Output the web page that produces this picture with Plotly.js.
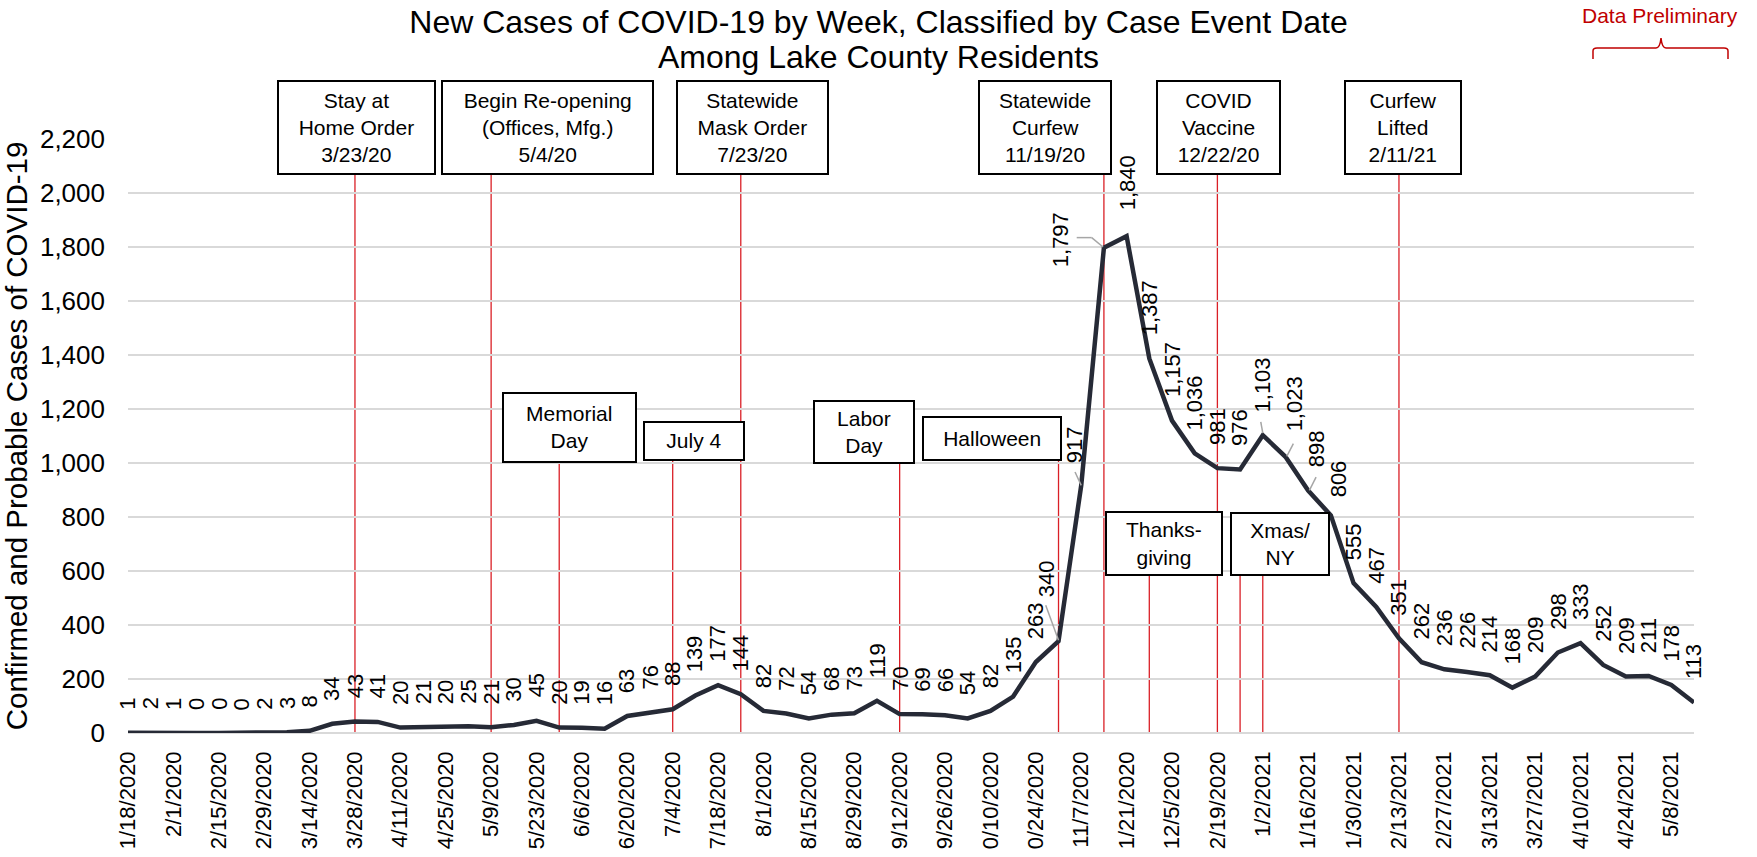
<!DOCTYPE html>
<html><head><meta charset="utf-8">
<script src="https://cdn.plot.ly/plotly-3.0.1.min.js"></script>
<style>html,body{margin:0;padding:0;background:#fff}</style>
</head><body><div id="chart" style="width:1757px;height:857px"></div>
<script>
const weeks = ['1/18/2020','1/25/2020','2/1/2020','2/8/2020','2/15/2020','2/22/2020','2/29/2020','3/7/2020','3/14/2020','3/21/2020',
'3/28/2020','4/4/2020','4/11/2020','4/18/2020','4/25/2020','5/2/2020','5/9/2020','5/16/2020','5/23/2020','5/30/2020',
'6/6/2020','6/13/2020','6/20/2020','6/27/2020','7/4/2020','7/11/2020','7/18/2020','7/25/2020','8/1/2020','8/8/2020',
'8/15/2020','8/22/2020','8/29/2020','9/5/2020','9/12/2020','9/19/2020','9/26/2020','10/3/2020','10/10/2020','10/17/2020',
'10/24/2020','10/31/2020','11/7/2020','11/14/2020','11/21/2020','11/28/2020','12/5/2020','12/12/2020','12/19/2020','12/26/2020',
'1/2/2021','1/9/2021','1/16/2021','1/23/2021','1/30/2021','2/6/2021','2/13/2021','2/20/2021','2/27/2021','3/6/2021',
'3/13/2021','3/20/2021','3/27/2021','4/3/2021','4/10/2021','4/17/2021','4/24/2021','5/1/2021','5/8/2021','5/15/2021'];
const cases = [1,2,1,0,0,0,2,3,8,34,
43,41,20,21,20,25,21,30,45,20,
19,16,63,76,88,139,177,144,82,72,
54,68,73,119,70,69,66,54,82,135,
263,340,917,1797,1840,1387,1157,1036,981,976,
1103,1023,898,806,555,467,351,262,236,226,
214,168,209,298,333,252,209,211,178,113];
const tickWeeks = ['1/18/2020','2/1/2020','2/15/2020','2/29/2020','3/14/2020','3/28/2020','4/11/2020','4/25/2020','5/9/2020','5/23/2020',
'6/6/2020','6/20/2020','7/4/2020','7/18/2020','8/1/2020','8/15/2020','8/29/2020','9/12/2020','9/26/2020','10/10/2020',
'10/24/2020','11/7/2020','11/21/2020','12/5/2020','12/19/2020','1/2/2021','1/16/2021','1/30/2021','2/13/2021','2/27/2021',
'3/13/2021','3/27/2021','4/10/2021','4/24/2021','5/8/2021'];
const tickLabels = ['1/18/2020','2/1/2020','2/15/2020','2/29/2020','3/14/2020','3/28/2020','4/11/2020','4/25/2020','5/9/2020','5/23/2020',
'6/6/2020','6/20/2020','7/4/2020','7/18/2020','8/1/2020','8/15/2020','8/29/2020','9/12/2020','9/26/2020','0/10/2020',
'0/24/2020','11/7/2020','1/21/2020','12/5/2020','2/19/2020','1/2/2021','1/16/2021','1/30/2021','2/13/2021','2/27/2021',
'3/13/2021','3/27/2021','4/10/2021','4/24/2021','5/8/2021'];
const eventLabels = ['Stay at<br>Home Order<br>3/23/20','Begin Re-opening<br>(Offices, Mfg.)<br>5/4/20','Statewide<br>Mask Order<br>7/23/20',
'Statewide<br>Curfew<br>11/19/20','COVID<br>Vaccine<br>12/22/20','Curfew<br>Lifted<br>2/11/21',
'Memorial<br>Day','July 4','Labor<br>Day','Halloween','Thanks-<br>giving','Xmas/<br>NY'];
const eventWeeks = [['3/28/2020'],['5/9/2020'],['7/25/2020'],['11/14/2020'],['12/19/2020'],['2/13/2021'],
['5/30/2020'],['7/4/2020'],['9/12/2020'],['10/31/2020'],['11/28/2020'],['12/26/2020','1/2/2021']];

// ---- layout geometry (pixels) ----
const W = 1757, H = 857;
const L = 128, R = 1694, T = 139, B = 733;
const YMAX = 2200;
const FONT = 'Liberation Sans, Arial, Helvetica, sans-serif';
const px2paperX = px => (px - L) / (R - L);
const px2paperY = py => (B - py) / (B - T);

// event box rectangles [x0, x1, y0, y1] in page pixels
const boxRects = [
  [277.5, 436.3, 80, 175], [440.9, 654.3, 80, 175], [675.8, 828.5, 80, 175],
  [977.7, 1112, 80, 175], [1156, 1281, 80, 175], [1343.9, 1461.4, 80, 175],
  [502.5, 637, 391.7, 462.3], [642.9, 744.7, 420.7, 460.3], [812.8, 914.6, 399.3, 463.7],
  [921.5, 1061.9, 415.7, 460.3], [1105.2, 1223, 510.7, 575.7], [1230, 1330.4, 511.7, 575.7]
];

const annotations = [];
const shapes = [];

eventLabels.forEach((lab, i) => {
  const r = boxRects[i];
  eventWeeks[i].forEach(wk => {
    shapes.push({type: 'line', xref: 'x', yref: 'paper', x0: weeks.indexOf(wk), x1: weeks.indexOf(wk),
      y0: 0, y1: px2paperY(r[3]), line: {color: '#DA1F26', width: 1.3}, layer: 'between'});
  });
  annotations.push({xref: 'paper', yref: 'paper', x: px2paperX((r[0] + r[1]) / 2), y: px2paperY((r[2] + r[3]) / 2),
    xanchor: 'center', yanchor: 'middle', showarrow: false, text: lab,
    width: r[1] - r[0] - 4, height: r[3] - r[2] - 4, borderwidth: 2, borderpad: 0,
    bordercolor: '#000', bgcolor: '#fff', font: {family: FONT, size: 21, color: '#000'}});
});

// data labels: default above the point; a few moved as in the original
const labelGap = {41: 44, 42: 22, 43: -19, 44: 26, 51: 25, 52: 23.5, 53: 18.4};
const labelDx = {41: -12, 42: -6, 43: -44, 44: 1, 51: 8.6, 52: 8.6, 53: 8};
cases.forEach((v, k) => {
  const gap = (k in labelGap) ? labelGap[k] : 23;
  annotations.push({xref: 'x', yref: 'y', x: k, y: v, text: v.toLocaleString('en-US'), textangle: -90,
    showarrow: false, xanchor: 'center', yanchor: 'bottom', yshift: gap - 1, xshift: labelDx[k] || 0,
    borderpad: 0, font: {family: FONT, size: 22, color: '#000'}});
});

// leader lines (pixel offsets from the data point)
const leaders = [
  [43, [[-27.2, 10.2, -12.2, 10.2], [-12.2, 10.2, -0.9, 0.8]]],
  [42, [[-6.2, 13.4, 0, 0]]],
  [41, [[-12.8, 35.9, 0, 0.9]]],
  [50, [[-2, 13.2, 0, 2]]],
  [51, [[7.9, 13.2, 1.3, 0.5]]],
  [52, [[7.9, 13.5, 1.2, 0.2]]]
];
leaders.forEach(([k, segs]) => segs.forEach(s => {
  shapes.push({type: 'line', xref: 'x', yref: 'y', xsizemode: 'pixel', ysizemode: 'pixel',
    xanchor: k, yanchor: cases[k], x0: s[0], y0: s[1], x1: s[2], y1: s[3],
    line: {color: '#A6A6A6', width: 1.5}});
}));

// "Data Preliminary" brace
const bp = (x, y) => px2paperX(x).toFixed(5) + ',' + px2paperY(y).toFixed(5);
shapes.push({type: 'path', xref: 'paper', yref: 'paper', line: {color: '#C00000', width: 1.5},
  path: 'M' + bp(1593, 59) + ' L' + bp(1593, 51) + ' Q' + bp(1593, 48) + ' ' + bp(1597, 48) +
        ' L' + bp(1656, 48) + ' Q' + bp(1660, 48) + ' ' + bp(1661, 38) +
        ' Q' + bp(1662, 48) + ' ' + bp(1666, 48) + ' L' + bp(1724, 48) +
        ' Q' + bp(1728, 48) + ' ' + bp(1728, 51) + ' L' + bp(1728, 59)});
annotations.push({xref: 'paper', yref: 'paper', x: px2paperX(1660), y: px2paperY(15), xanchor: 'center', yanchor: 'middle',
  showarrow: false, text: 'Data Preliminary', font: {family: FONT, size: 21, color: '#C00000'}});

const trace = {x: weeks, y: cases, type: 'scatter', mode: 'lines', cliponaxis: false,
  line: {color: '#262A36', width: 4.5}, hoverinfo: 'x+y'};

const layout = {
  width: W, height: H, paper_bgcolor: '#fff', plot_bgcolor: '#fff', showlegend: false,
  margin: {l: L, r: W - R, t: T, b: H - B, pad: 0},
  font: {family: FONT, color: '#000'},
  title: {text: '<span style="font-size:32px">New Cases of COVID-19 by Week, Classified by Case Event Date</span><br><span style="font-size:32px">Among Lake County Residents</span>',
    font: {family: FONT, size: 27, color: '#000'}, x: 0.5, xref: 'container', xanchor: 'center',
    y: 1 - 33 / H, yref: 'container', yanchor: 'top'},
  xaxis: {type: 'category', range: [0, weeks.length - 1], tickmode: 'array', tickvals: tickWeeks, ticktext: tickLabels,
    tickangle: -90, tickfont: {family: FONT, size: 22, color: '#000'}, showgrid: false, zeroline: false,
    showline: false, ticks: '', ticklabelstandoff: 13, automargin: false, fixedrange: true},
  yaxis: {range: [0, YMAX], dtick: 200, tickformat: ',d', gridcolor: '#D9D9D9', gridwidth: 1.5,
    zeroline: true, zerolinecolor: '#D9D9D9', zerolinewidth: 1.5, showline: false, ticks: '',
    tickfont: {family: FONT, size: 26, color: '#000'}, ticklabelstandoff: 22, automargin: false,
    title: {text: 'Confirmed and Probable Cases of COVID-19', font: {family: FONT, size: 29.5, color: '#000'}, standoff: 4}},
  annotations: annotations, shapes: shapes
};

Plotly.newPlot('chart', [trace], layout, {displayModeBar: false, staticPlot: true});
</script></body></html>
